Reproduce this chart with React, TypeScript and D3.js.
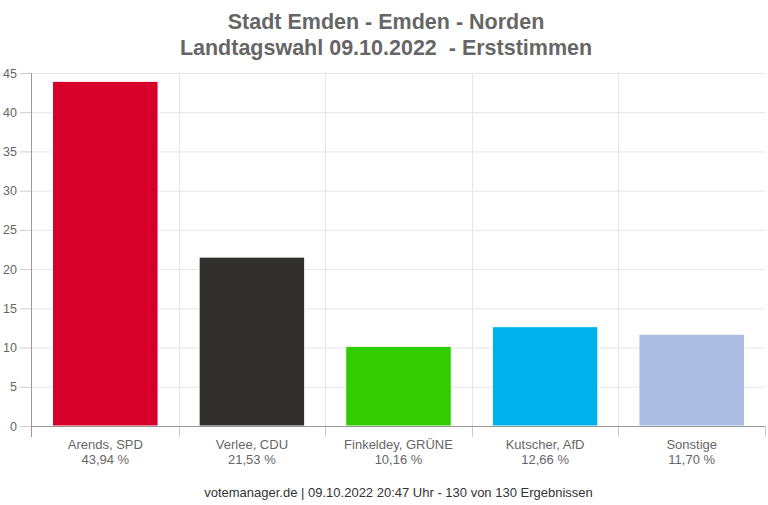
import React from 'react'
import * as d3 from 'd3'

const candidates = ['Arends, SPD', 'Verlee, CDU', 'Finkeldey, GRÜNE', 'Kutscher, AfD', 'Sonstige']
const shares = [43.94, 21.53, 10.16, 12.66, 11.7]
const colors = ['#d7002a', '#32302e', '#33cc00', '#00b2eb', '#abbde3']
const yTicks = [0, 5, 10, 15, 20, 25, 30, 35, 40, 45]
const titleLines = ['Stadt Emden - Emden - Norden', 'Landtagswahl 09.10.2022  - Erststimmen']
const footer = 'votemanager.de | 09.10.2022 20:47 Uhr - 130 von 130 Ergebnissen'

const width = 768
const height = 505
const margin = { top: 73, right: 3, bottom: 79, left: 32 }

const font = '"Liberation Sans", Arial, sans-serif'

const App: React.FunctionComponent = () => {
  const x = d3
    .scaleBand<string>()
    .domain(candidates)
    .range([margin.left, width - margin.right])
    .paddingInner(0)
    .paddingOuter(0)
  const y = d3
    .scaleLinear()
    .domain([0, 45])
    .range([height - margin.bottom, margin.top])

  const bw = x.bandwidth()
  const barW = bw * 0.72
  const base = y(0)
  const fmt = (v: number) => v.toFixed(2).replace('.', ',') + ' %'

  return (
    <svg
      width={width}
      height={height}
      style={{ position: 'absolute', left: 0, top: 0, background: '#fff' }}
      fontFamily={font}
    >
      {titleLines.map((t, i) => (
        <text
          key={t}
          x={386}
          y={29 + i * 26}
          textAnchor="middle"
          fontSize={21.5}
          fontWeight="bold"
          fill="#666"
          style={{ whiteSpace: 'pre' }}
        >
          {t}
        </text>
      ))}

      {/* horizontal grid + y ticks */}
      {yTicks.map(t => (
        <g key={t}>
          {t > 0 && (
            <line x1={margin.left} x2={width - margin.right} y1={y(t) + 0.5} y2={y(t) + 0.5} stroke="#e6e6e6" />
          )}
          <line x1={20} x2={margin.left} y1={y(t) + 0.5} y2={y(t) + 0.5} stroke="#ccc" />
          <text x={17} y={y(t) + 4.5} textAnchor="end" fontSize={12.5} fill="#666">
            {t}
          </text>
        </g>
      ))}

      {/* vertical grid between categories */}
      {candidates.map((c, i) => {
        const xx = Math.round((x(c) as number) + bw) + 0.5
        return (
          <g key={c}>
            {i < candidates.length - 1 && (
              <line x1={xx} x2={xx} y1={margin.top} y2={base} stroke="#e6e6e6" />
            )}
            <line x1={xx} x2={xx} y1={base} y2={base + 11} stroke="#ccc" />
          </g>
        )
      })}

      {/* bars */}
      {candidates.map((c, i) => (
        <rect
          key={c}
          x={(x(c) as number) + (bw - barW) / 2}
          y={y(shares[i])}
          width={barW}
          height={base - y(shares[i])}
          fill={colors[i]}
          stroke="#fff"
          strokeWidth={1}
        />
      ))}

      {/* axes */}
      <line x1={margin.left - 0.5} x2={margin.left - 0.5} y1={margin.top} y2={base + 11} stroke="#999" />
      <line x1={margin.left} x2={width - margin.right} y1={base + 0.5} y2={base + 0.5} stroke="#999" />

      {/* category labels */}
      {candidates.map((c, i) => {
        const cx = (x(c) as number) + bw / 2
        return (
          <text key={c} textAnchor="middle" fontSize={13} fill="#666">
            <tspan x={cx} y={base + 23}>
              {c}
            </tspan>
            <tspan x={cx} y={base + 38}>
              {fmt(shares[i])}
            </tspan>
          </text>
        )
      })}

      <text x={(margin.left + width - margin.right) / 2} y={497} textAnchor="middle" fontSize={13} fill="#333">
        {footer}
      </text>
    </svg>
  )
}

export default App
